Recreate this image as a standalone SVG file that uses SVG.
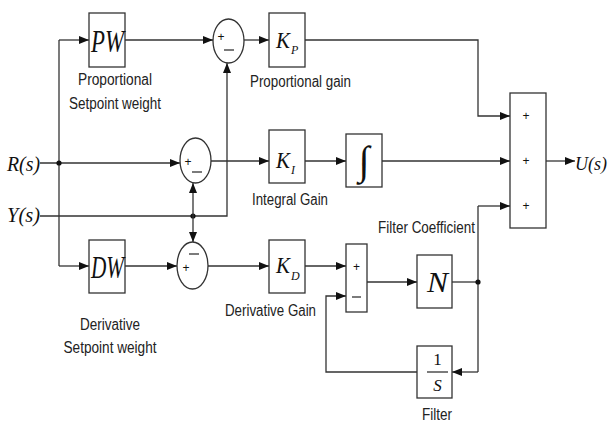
<svg xmlns="http://www.w3.org/2000/svg" width="609" height="422" viewBox="0 0 609 422">
<defs>
<marker id="arr" markerWidth="11" markerHeight="9" refX="10" refY="4" orient="auto" markerUnits="userSpaceOnUse">
<path d="M0,0 L10,4 L0,8 z" fill="#111"/>
</marker>
<style>
.box{fill:#fff;stroke:#333;stroke-width:1.3}
.ln{fill:none;stroke:#333;stroke-width:1.3}
.ar{fill:none;stroke:#333;stroke-width:1.3;marker-end:url(#arr)}
.lbl{font-family:"Liberation Sans",Arial,sans-serif;font-size:16px;fill:#222}
.math{font-family:"Liberation Serif","Times New Roman",serif;font-style:italic;fill:#111}
.sgn{font-family:"Liberation Sans",Arial,sans-serif;font-size:12px;fill:#111;text-anchor:middle}
.dot{fill:#111}
</style>
</defs>
<rect width="609" height="422" fill="#fff"/>

<g id="connectors">
<polyline class="ln" points="59,40 59,266"/>
<line class="ar" x1="59" y1="40" x2="89" y2="40"/>
<line class="ar" x1="59" y1="266" x2="89" y2="266"/>
<line class="ar" x1="40" y1="163" x2="180" y2="163"/>
<circle class="dot" cx="59" cy="163" r="2.6"/>
<polyline class="ar" points="40,216 227,216 227,63"/>
<circle class="dot" cx="193" cy="216" r="2.6"/>
<line class="ar" x1="193" y1="216" x2="193" y2="183"/>
<line class="ar" x1="193" y1="216" x2="193" y2="242"/>
<line class="ar" x1="125" y1="40" x2="213" y2="40"/>
<line class="ar" x1="244" y1="40" x2="269" y2="40"/>
<polyline class="ar" points="305,40 478,40 478,116 510,116"/>
<line class="ar" x1="211" y1="161" x2="269" y2="161"/>
<line class="ar" x1="305" y1="161" x2="346" y2="161"/>
<line class="ar" x1="382" y1="161" x2="510" y2="161"/>
<line class="ar" x1="125" y1="266" x2="177" y2="266"/>
<line class="ar" x1="208" y1="266" x2="269" y2="266"/>
<line class="ar" x1="305" y1="266" x2="346" y2="266"/>
<line class="ar" x1="367" y1="282" x2="417" y2="282"/>
<line class="ln" x1="452" y1="282" x2="478" y2="282"/>
<line class="ar" x1="478" y1="206" x2="510" y2="206"/>
<line class="ln" x1="478" y1="206" x2="478" y2="372"/>
<line class="ar" x1="478" y1="372" x2="452" y2="372"/>
<circle class="dot" cx="478" cy="282" r="2.6"/>
<polyline class="ar" points="417,372 326,372 326,296 346,296"/>
<line class="ar" x1="546" y1="161" x2="575" y2="161"/>
</g>

<g id="R">
<text class="math" x="7" y="171" font-size="21" textLength="33" lengthAdjust="spacingAndGlyphs">R(s)</text>
</g>
<g id="Y">
<text class="math" x="7" y="222" font-size="21" textLength="33" lengthAdjust="spacingAndGlyphs">Y(s)</text>
</g>
<g id="U">
<text class="math" x="575" y="170" font-size="18">U(s)</text>
</g>

<g id="PW">
<rect class="box" x="89" y="13" width="36" height="54"/>
<text class="math" x="91" y="52" font-size="32" textLength="33" lengthAdjust="spacingAndGlyphs">PW</text>
<text class="lbl" x="115" y="85" text-anchor="middle" textLength="74" lengthAdjust="spacingAndGlyphs">Proportional</text>
<text class="lbl" x="115" y="109" text-anchor="middle" textLength="92" lengthAdjust="spacingAndGlyphs">Setpoint weight</text>
</g>

<g id="DW">
<rect class="box" x="89" y="240" width="36" height="53"/>
<text class="math" x="91" y="278" font-size="32" textLength="33" lengthAdjust="spacingAndGlyphs">DW</text>
<text class="lbl" x="110" y="330" text-anchor="middle" textLength="60" lengthAdjust="spacingAndGlyphs">Derivative</text>
<text class="lbl" x="110" y="353" text-anchor="middle" textLength="93" lengthAdjust="spacingAndGlyphs">Setpoint weight</text>
</g>

<g id="sumP">
<ellipse class="box" cx="228.5" cy="41" rx="15.5" ry="22"/>
<text class="sgn" x="221" y="41">+</text>
<line class="ln" x1="224" y1="50" x2="234" y2="50"/>
</g>

<g id="sumI">
<ellipse class="box" cx="195.5" cy="160.5" rx="15.5" ry="22.5"/>
<text class="sgn" x="188" y="166">+</text>
<line class="ln" x1="192" y1="172" x2="202" y2="172"/>
</g>

<g id="sumD">
<ellipse class="box" cx="192.5" cy="265.5" rx="15.5" ry="23.5"/>
<line class="ln" x1="189" y1="254" x2="199" y2="254"/>
<text class="sgn" x="186" y="272">+</text>
</g>

<g id="KP">
<rect class="box" x="269" y="13" width="36" height="54"/>
<text class="math" x="276" y="48" font-size="24" textLength="14" lengthAdjust="spacingAndGlyphs">K</text>
<text class="math" x="291" y="54" font-size="12">P</text>
<text class="lbl" x="250" y="87" textLength="101" lengthAdjust="spacingAndGlyphs">Proportional gain</text>
</g>

<g id="KI">
<rect class="box" x="269" y="130" width="36" height="53"/>
<text class="math" x="276" y="168" font-size="24" textLength="14" lengthAdjust="spacingAndGlyphs">K</text>
<text class="math" x="291" y="174" font-size="12">I</text>
<text class="lbl" x="252" y="205" textLength="76" lengthAdjust="spacingAndGlyphs">Integral Gain</text>
</g>

<g id="KD">
<rect class="box" x="269" y="240" width="36" height="53"/>
<text class="math" x="276" y="273" font-size="24" textLength="14" lengthAdjust="spacingAndGlyphs">K</text>
<text class="math" x="291" y="280" font-size="12">D</text>
<text class="lbl" x="225" y="316" textLength="91" lengthAdjust="spacingAndGlyphs">Derivative Gain</text>
</g>

<g id="integrator">
<rect class="box" x="346" y="134" width="36" height="53"/>
<text x="364" y="174" font-family="'Liberation Serif','DejaVu Serif',serif" font-size="40" text-anchor="middle" fill="#111">∫</text>
</g>

<g id="sumOut">
<rect class="box" x="510" y="93" width="36" height="135"/>
<text class="sgn" x="526" y="120">+</text>
<text class="sgn" x="526" y="165">+</text>
<text class="sgn" x="526" y="210">+</text>
</g>

<g id="sumF">
<rect class="box" x="346" y="244" width="21" height="68"/>
<text class="sgn" x="356.5" y="271">+</text>
<line class="ln" x1="352" y1="297" x2="361" y2="297"/>
</g>

<g id="N">
<rect class="box" x="417" y="255" width="35" height="53"/>
<text class="math" x="427" y="292" font-size="30" textLength="21" lengthAdjust="spacingAndGlyphs">N</text>
<text class="lbl" x="378" y="233" textLength="97" lengthAdjust="spacingAndGlyphs">Filter Coefficient</text>
</g>

<g id="filter">
<rect class="box" x="417" y="346" width="35" height="52"/>
<text x="437.5" y="365" font-family="'Liberation Serif',serif" font-size="17" text-anchor="middle" fill="#111">1</text>
<line class="ln" x1="427" y1="372" x2="448" y2="372"/>
<text class="math" x="437.5" y="391" font-size="17" text-anchor="middle">S</text>
<text class="lbl" x="437" y="420" text-anchor="middle" textLength="30" lengthAdjust="spacingAndGlyphs">Filter</text>
</g>
</svg>
